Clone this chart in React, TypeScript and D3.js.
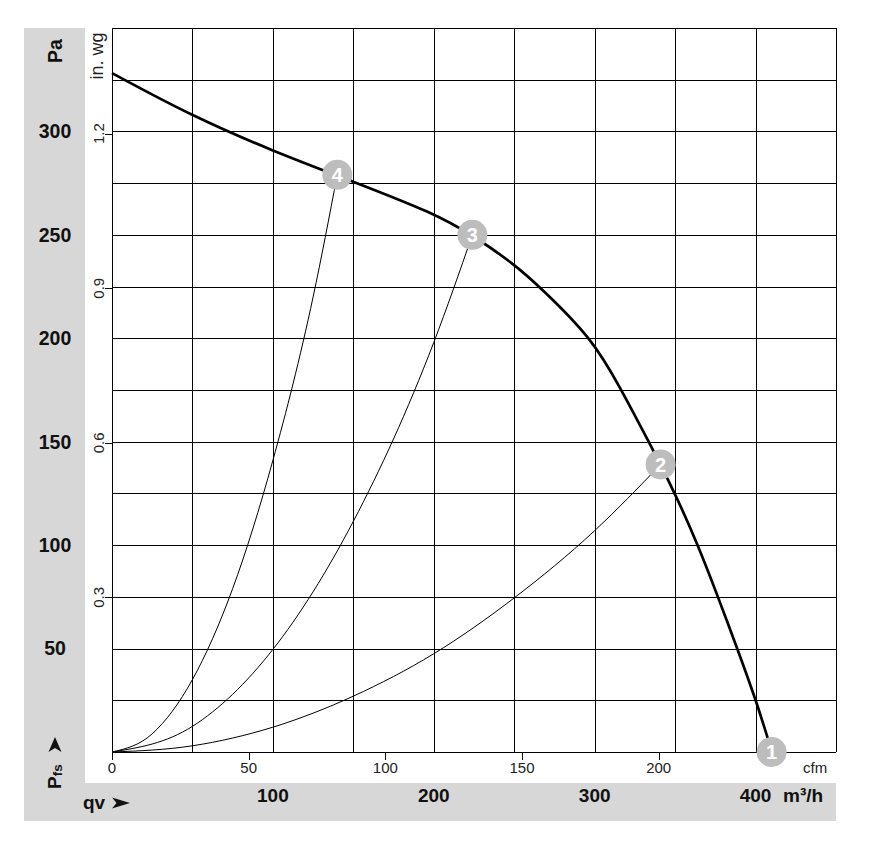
import React from "react";
import * as d3 from "d3";

// ---- data ----
const flowLabels = [100, 200, 300, 400]; // m³/h labels in the bottom band
const paLabels = [50, 100, 150, 200, 250, 300];
const inwgLabels = [0.3, 0.6, 0.9, 1.2];
const cfmLabels = [0, 50, 100, 150, 200];

// fan curve: flow (m³/h), static pressure (Pa)
const fanQ = [0, 50.3, 100, 149.7, 200.1, 224.4, 249.9, 266, 298.3, 316, 333.1, 349.9, 364.2, 376.7, 388.5, 400.3, 410.2];
const fanP = [328.2, 307.2, 290.5, 275.8, 260.5, 249.7, 235.9, 224.8, 200.1, 176, 150.8, 125.2, 100.1, 74.9, 50.3, 25.1, 0];

// system curves (read points)
const sys4Q = [0, 25, 50, 75, 100, 125, 140];
const sys4P = [0, 8.8, 35, 79, 141, 220, 279];
const sys3Q = [0, 50, 100, 150, 200, 224];
const sys3P = [0, 12.4, 49.6, 111.5, 198, 250];
const sys2Q = [0, 50, 100, 150, 200, 250, 300, 341];
const sys2P = [0, 3, 12, 27, 47.5, 74.5, 107, 139];

const markerIds = [1, 2, 3, 4];
const markerQ = [410, 341, 224, 140];
const markerP = [0, 139, 250, 279];

const FONT = "'Liberation Sans', Arial, Helvetica, sans-serif";

export default function App() {
  const L = 112, R = 836, T = 28, B = 752;
  const x = d3.scaleLinear().domain([0, 450]).range([L, R]);
  const y = d3.scaleLinear().domain([0, 350]).range([B, T]);
  const xCfm = d3.scaleLinear().domain([0, 450 / 1.69901]).range([L, R]);
  const yIn = d3.scaleLinear().domain([0, 350 / 249.089]).range([B, T]);

  const fanLine = d3
    .line<[number, number]>()
    .x((d) => x(d[0]))
    .y((d) => y(d[1]))
    .curve(d3.curveBasis);
  const sysLine = d3
    .line<[number, number]>()
    .x((d) => x(d[0]))
    .y((d) => y(d[1]))
    .curve(d3.curveMonotoneX);

  const zip = (q: number[], p: number[]) => q.map((v, i) => [v, p[i]] as [number, number]);

  const vGrid = d3.range(0, 450 + 1, 50);
  const hGrid = d3.range(0, 350 + 1, 25);
  const gray = "#d7d7d7";

  return (
    <svg
      width={877}
      height={866}
      style={{ position: "absolute", left: 0, top: 0, background: "#fff" }}
      fontFamily={FONT}
    >
      <rect x={0} y={0} width={877} height={866} fill="#fff" />
      {/* gray bands */}
      <rect x={24} y={28} width={61} height={793} fill={gray} />
      <rect x={24} y={783} width={812} height={38} fill={gray} />

      {/* grid */}
      <g shapeRendering="crispEdges" stroke="#000" strokeWidth={1}>
        {vGrid.map((v) => (
          <line key={"v" + v} x1={Math.round(x(v))} x2={Math.round(x(v))} y1={T} y2={B} />
        ))}
        {hGrid.map((v) => (
          <line key={"h" + v} x1={L} x2={R} y1={Math.round(y(v))} y2={Math.round(y(v))} />
        ))}
        {inwgLabels.map((v) => (
          <line key={"ti" + v} x1={105} x2={L} y1={Math.round(yIn(v))} y2={Math.round(yIn(v))} />
        ))}
        {cfmLabels.map((v) => (
          <line key={"tc" + v} x1={Math.round(xCfm(v))} x2={Math.round(xCfm(v))} y1={B} y2={760} />
        ))}
      </g>

      {/* system curves */}
      <g fill="none" stroke="#000" strokeWidth={1}>
        <path d={sysLine(zip(sys4Q, sys4P)) || ""} />
        <path d={sysLine(zip(sys3Q, sys3P)) || ""} />
        <path d={sysLine(zip(sys2Q, sys2P)) || ""} />
      </g>

      {/* fan curve */}
      <path d={fanLine(zip(fanQ, fanP)) || ""} fill="none" stroke="#000" strokeWidth={2.7} strokeLinejoin="round" />

      {/* markers */}
      {markerIds.map((id, i) => (
        <g key={"m" + id} transform={`translate(${x(markerQ[i])},${y(markerP[i])})`}>
          <circle r={15} fill="#bdbdbd" />
          <text textAnchor="middle" dy="0.36em" fill="#fff" fontWeight="bold" fontSize={20}>
            {id}
          </text>
        </g>
      ))}

      {/* Pa labels */}
      {paLabels.map((v) => (
        <text key={"pa" + v} x={55} y={y(v)} dy="0.35em" textAnchor="middle" fontWeight="bold" fontSize={19.5} fill="#111">
          {v}
        </text>
      ))}
      <text transform="translate(62,51) rotate(-90)" textAnchor="middle" fontWeight="bold" fontSize={19.5} fill="#111">
        Pa
      </text>

      {/* Pfs label with arrow */}
      <text transform="translate(61,789) rotate(-90)" fontWeight="bold" fontSize={19} fill="#111">
        P<tspan fontSize={13.5} dy={1}>fs</tspan>
      </text>
      <path d="M55,737 L61.5,752 L55,748 L48.5,752 Z" fill="#111" />

      {/* in. wg labels */}
      {inwgLabels.map((v) => (
        <text
          key={"iw" + v}
          transform={`translate(104,${yIn(v)}) rotate(-90)`}
          textAnchor="middle"
          fontSize={15}
          fill="#222"
        >
          {d3.format(".1f")(v)}
        </text>
      ))}
      <text transform="translate(103,56) rotate(-90)" textAnchor="middle" fontSize={18} fill="#222">
        in. wg
      </text>

      {/* cfm labels */}
      {cfmLabels.map((v) => (
        <text key={"cf" + v} x={xCfm(v)} y={773} textAnchor="middle" fontSize={15} fill="#222">
          {v}
        </text>
      ))}
      <text x={803} y={773} fontSize={15} fill="#222">
        cfm
      </text>

      {/* bottom band: m³/h */}
      <text x={83} y={809} fontWeight="bold" fontSize={19} fill="#111">
        qv
      </text>
      <path d="M112,797.5 L130,803 L112,808.5 L116.5,803 Z" fill="#111" />
      {flowLabels.map((v) => (
        <text key={"fl" + v} x={x(v)} y={802} textAnchor="middle" fontWeight="bold" fontSize={19} fill="#111">
          {v}
        </text>
      ))}
      <text x={783} y={802} fontWeight="bold" fontSize={19} fill="#111">
        m³/h
      </text>
    </svg>
  );
}
